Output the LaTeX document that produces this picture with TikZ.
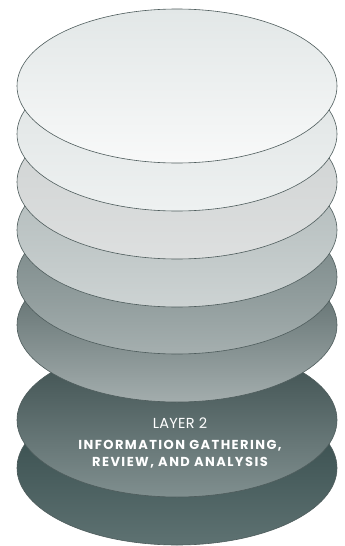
\documentclass[tikz,border=0pt]{standalone}
\usepackage{fontspec}
\newfontfamily\layerfont[LetterSpace=2]{Poppins}
\newfontfamily\layerboldfont[LetterSpace=11]{Poppins}
\usetikzlibrary{shapes.geometric,positioning}

\definecolor{discline}{HTML}{4E5C5C}
\definecolor{laytopA}{HTML}{2E4444}\definecolor{laybotA}{HTML}{5E7272}
\definecolor{laytopB}{HTML}{394B4B}\definecolor{laybotB}{HTML}{808F8F}
\definecolor{laytopC}{HTML}{4D5D5D}\definecolor{laybotC}{HTML}{A3ADAD}
\definecolor{laytopD}{HTML}{6F7E7E}\definecolor{laybotD}{HTML}{A5AFAF}
\definecolor{laytopE}{HTML}{ACB6B6}\definecolor{laybotE}{HTML}{CDD3D3}
\definecolor{laytopF}{HTML}{CDD1D1}\definecolor{laybotF}{HTML}{DDDFDF}
\definecolor{laytopG}{HTML}{DDE2E2}\definecolor{laybotG}{HTML}{EEF1F1}
\definecolor{laytopH}{HTML}{E2E7E7}\definecolor{laybotH}{HTML}{F8F9F9}

\begin{document}
\begin{tikzpicture}[
    x=1pt, y=-1pt,
    disc/.style={ellipse, draw=discline, line width=0.6pt, inner sep=0pt,
        minimum width=320pt, minimum height=154pt},
    caption/.style={text=white, align=center, inner sep=0pt}
]
\useasboundingbox (0,0) rectangle (345,546);

% stack, drawn from the bottom layer up
\foreach \lay/\ypos in {A/468, B/420, C/325, D/277, E/230, F/182, G/134, H/86}
    \node[disc, top color=laytop\lay, bottom color=laybot\lay] (layer\lay) at (177,\ypos) {};

\node[caption, font=\layerfont\fontsize{14.5}{16}\selectfont] (laytitle) at (180,423) {LAYER 2};
\node[caption, font=\layerboldfont\bfseries\fontsize{13}{17}\selectfont] (laytext) at (180,454)
    {INFORMATION GATHERING,\\REVIEW, AND ANALYSIS};

\end{tikzpicture}
\end{document}
